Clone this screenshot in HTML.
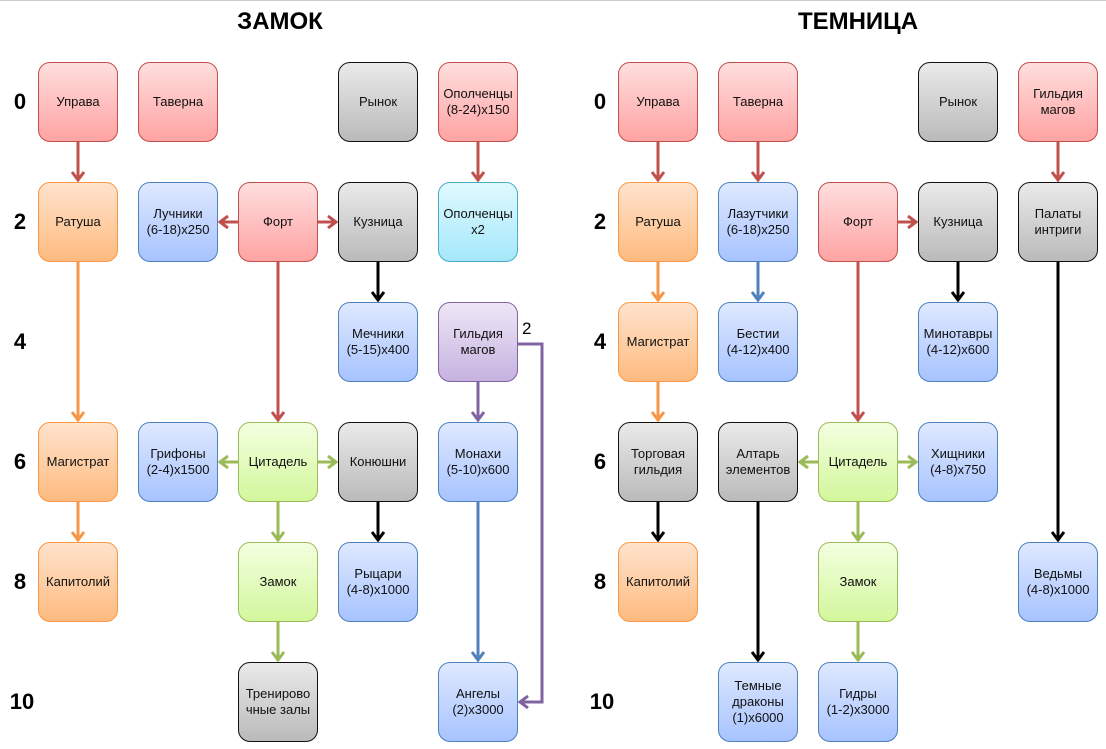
<!DOCTYPE html>
<html><head><meta charset="utf-8"><style>
body{margin:0;width:1106px;height:749px;background:#fff;position:relative;overflow:hidden;font-family:"Liberation Sans",sans-serif}
.b{position:absolute;width:78px;height:78px;border-radius:12px;border:1px solid;display:flex;align-items:center;justify-content:center;text-align:center;font-size:13px;line-height:16px;color:#111;box-sizing:content-box}
.r{background:linear-gradient(#ffdede,#ffa3a3);border-color:#c0504d}
.o{background:linear-gradient(#ffe3cc,#ffbb80);border-color:#f79646}
.u{background:linear-gradient(#dfe9ff,#a7c3ff);border-color:#4f81bd}
.g{background:linear-gradient(#eaeaea,#bababa);border-color:#111}
.c{background:linear-gradient(#e0f9ff,#a5e8fa);border-color:#4bacc6}
.v{background:linear-gradient(#f3ffe0,#d3f79c);border-color:#9bbb59}
.p{background:linear-gradient(#eee6f6,#c6b2e0);border-color:#8064a2}
.t{position:absolute;font-weight:bold;font-size:24px;top:8px;width:200px;text-align:center}
.n{position:absolute;font-weight:bold;font-size:22px;width:40px;text-align:center}
svg{position:absolute;left:0;top:0}
</style></head><body>
<div style="position:absolute;left:0;top:0;width:1106px;height:1px;background:#ccc"></div>
<div class="t" style="left:180px">ЗАМОК</div>
<div class="t" style="left:758px">ТЕМНИЦА</div>
<div class="n" style="left:0;top:89px">0</div><div class="n" style="left:0;top:209px">2</div><div class="n" style="left:0;top:329px">4</div><div class="n" style="left:0;top:449px">6</div><div class="n" style="left:0;top:569px">8</div><div class="n" style="left:2px;top:689px">10</div>
<div class="n" style="left:580px;top:89px">0</div><div class="n" style="left:580px;top:209px">2</div><div class="n" style="left:580px;top:329px">4</div><div class="n" style="left:580px;top:449px">6</div><div class="n" style="left:580px;top:569px">8</div><div class="n" style="left:582px;top:689px">10</div>
<svg width="1106" height="749">
<defs>
<marker id="mr" markerWidth="14" markerHeight="14" refX="10" refY="7" orient="auto" markerUnits="userSpaceOnUse"><path d="M2,1 L10,7 L2,13" fill="none" stroke="#c0504d" stroke-width="3"/></marker>
<marker id="mo" markerWidth="14" markerHeight="14" refX="10" refY="7" orient="auto" markerUnits="userSpaceOnUse"><path d="M2,1 L10,7 L2,13" fill="none" stroke="#f79646" stroke-width="3"/></marker>
<marker id="mk" markerWidth="14" markerHeight="14" refX="10" refY="7" orient="auto" markerUnits="userSpaceOnUse"><path d="M2,1 L10,7 L2,13" fill="none" stroke="#000" stroke-width="3"/></marker>
<marker id="mg" markerWidth="14" markerHeight="14" refX="10" refY="7" orient="auto" markerUnits="userSpaceOnUse"><path d="M2,1 L10,7 L2,13" fill="none" stroke="#9bbb59" stroke-width="3"/></marker>
<marker id="mp" markerWidth="14" markerHeight="14" refX="10" refY="7" orient="auto" markerUnits="userSpaceOnUse"><path d="M2,1 L10,7 L2,13" fill="none" stroke="#8064a2" stroke-width="3"/></marker>
<marker id="mb" markerWidth="14" markerHeight="14" refX="10" refY="7" orient="auto" markerUnits="userSpaceOnUse"><path d="M2,1 L10,7 L2,13" fill="none" stroke="#4f81bd" stroke-width="3"/></marker>
</defs>
<g stroke-width="3" fill="none">
<path d="M78,142V180" stroke="#c0504d" marker-end="url(#mr)"/>
<path d="M478,142V180" stroke="#c0504d" marker-end="url(#mr)"/>
<path d="M238,222H220" stroke="#c0504d" marker-end="url(#mr)"/>
<path d="M318,222H336" stroke="#c0504d" marker-end="url(#mr)"/>
<path d="M378,262V300" stroke="#000" marker-end="url(#mk)"/>
<path d="M78,262V420" stroke="#f79646" marker-end="url(#mo)"/>
<path d="M78,502V540" stroke="#f79646" marker-end="url(#mo)"/>
<path d="M278,262V420" stroke="#c0504d" marker-end="url(#mr)"/>
<path d="M238,462H220" stroke="#9bbb59" marker-end="url(#mg)"/>
<path d="M318,462H336" stroke="#9bbb59" marker-end="url(#mg)"/>
<path d="M278,502V540" stroke="#9bbb59" marker-end="url(#mg)"/>
<path d="M278,622V660" stroke="#9bbb59" marker-end="url(#mg)"/>
<path d="M378,502V540" stroke="#000" marker-end="url(#mk)"/>
<path d="M478,382V420" stroke="#8064a2" marker-end="url(#mp)"/>
<path d="M478,502V660" stroke="#4f81bd" marker-end="url(#mb)"/>
<path d="M518,344H542V702H520" stroke="#8064a2" marker-end="url(#mp)"/>
<path d="M658,142V180" stroke="#c0504d" marker-end="url(#mr)"/>
<path d="M658,262V300" stroke="#f79646" marker-end="url(#mo)"/>
<path d="M658,382V420" stroke="#f79646" marker-end="url(#mo)"/>
<path d="M658,502V540" stroke="#000" marker-end="url(#mk)"/>
<path d="M758,142V180" stroke="#c0504d" marker-end="url(#mr)"/>
<path d="M758,262V300" stroke="#4f81bd" marker-end="url(#mb)"/>
<path d="M898,222H916" stroke="#c0504d" marker-end="url(#mr)"/>
<path d="M858,262V420" stroke="#c0504d" marker-end="url(#mr)"/>
<path d="M958,262V300" stroke="#000" marker-end="url(#mk)"/>
<path d="M1058,142V180" stroke="#c0504d" marker-end="url(#mr)"/>
<path d="M1058,262V540" stroke="#000" marker-end="url(#mk)"/>
<path d="M818,462H800" stroke="#9bbb59" marker-end="url(#mg)"/>
<path d="M898,462H916" stroke="#9bbb59" marker-end="url(#mg)"/>
<path d="M858,502V540" stroke="#9bbb59" marker-end="url(#mg)"/>
<path d="M858,622V660" stroke="#9bbb59" marker-end="url(#mg)"/>
<path d="M758,502V660" stroke="#000" marker-end="url(#mk)"/>
</g>
<text x="522" y="334" font-size="17" font-family="Liberation Sans">2</text>
</svg>
<div class="b r" style="left:38px;top:62px">Управа</div>
<div class="b r" style="left:138px;top:62px">Таверна</div>
<div class="b g" style="left:338px;top:62px">Рынок</div>
<div class="b r" style="left:438px;top:62px">Ополченцы<br>(8-24)x150</div>
<div class="b o" style="left:38px;top:182px">Ратуша</div>
<div class="b u" style="left:138px;top:182px">Лучники<br>(6-18)x250</div>
<div class="b r" style="left:238px;top:182px">Форт</div>
<div class="b g" style="left:338px;top:182px">Кузница</div>
<div class="b c" style="left:438px;top:182px">Ополченцы<br>x2</div>
<div class="b u" style="left:338px;top:302px">Мечники<br>(5-15)x400</div>
<div class="b p" style="left:438px;top:302px">Гильдия<br>магов</div>
<div class="b o" style="left:38px;top:422px">Магистрат</div>
<div class="b u" style="left:138px;top:422px">Грифоны<br>(2-4)x1500</div>
<div class="b v" style="left:238px;top:422px">Цитадель</div>
<div class="b g" style="left:338px;top:422px">Конюшни</div>
<div class="b u" style="left:438px;top:422px">Монахи<br>(5-10)x600</div>
<div class="b o" style="left:38px;top:542px">Капитолий</div>
<div class="b v" style="left:238px;top:542px">Замок</div>
<div class="b u" style="left:338px;top:542px">Рыцари<br>(4-8)x1000</div>
<div class="b g" style="left:238px;top:662px">Тренирово<br>чные залы</div>
<div class="b u" style="left:438px;top:662px">Ангелы<br>(2)x3000</div>

<div class="b r" style="left:618px;top:62px">Управа</div>
<div class="b r" style="left:718px;top:62px">Таверна</div>
<div class="b g" style="left:918px;top:62px">Рынок</div>
<div class="b r" style="left:1018px;top:62px">Гильдия<br>магов</div>
<div class="b o" style="left:618px;top:182px">Ратуша</div>
<div class="b u" style="left:718px;top:182px">Лазутчики<br>(6-18)x250</div>
<div class="b r" style="left:818px;top:182px">Форт</div>
<div class="b g" style="left:918px;top:182px">Кузница</div>
<div class="b g" style="left:1018px;top:182px">Палаты<br>интриги</div>
<div class="b o" style="left:618px;top:302px">Магистрат</div>
<div class="b u" style="left:718px;top:302px">Бестии<br>(4-12)x400</div>
<div class="b u" style="left:918px;top:302px">Минотавры<br>(4-12)x600</div>
<div class="b g" style="left:618px;top:422px">Торговая<br>гильдия</div>
<div class="b g" style="left:718px;top:422px">Алтарь<br>элементов</div>
<div class="b v" style="left:818px;top:422px">Цитадель</div>
<div class="b u" style="left:918px;top:422px">Хищники<br>(4-8)x750</div>
<div class="b o" style="left:618px;top:542px">Капитолий</div>
<div class="b v" style="left:818px;top:542px">Замок</div>
<div class="b u" style="left:1018px;top:542px">Ведьмы<br>(4-8)x1000</div>
<div class="b u" style="left:718px;top:662px">Темные<br>драконы<br>(1)x6000</div>
<div class="b u" style="left:818px;top:662px">Гидры<br>(1-2)x3000</div>
</body></html>
